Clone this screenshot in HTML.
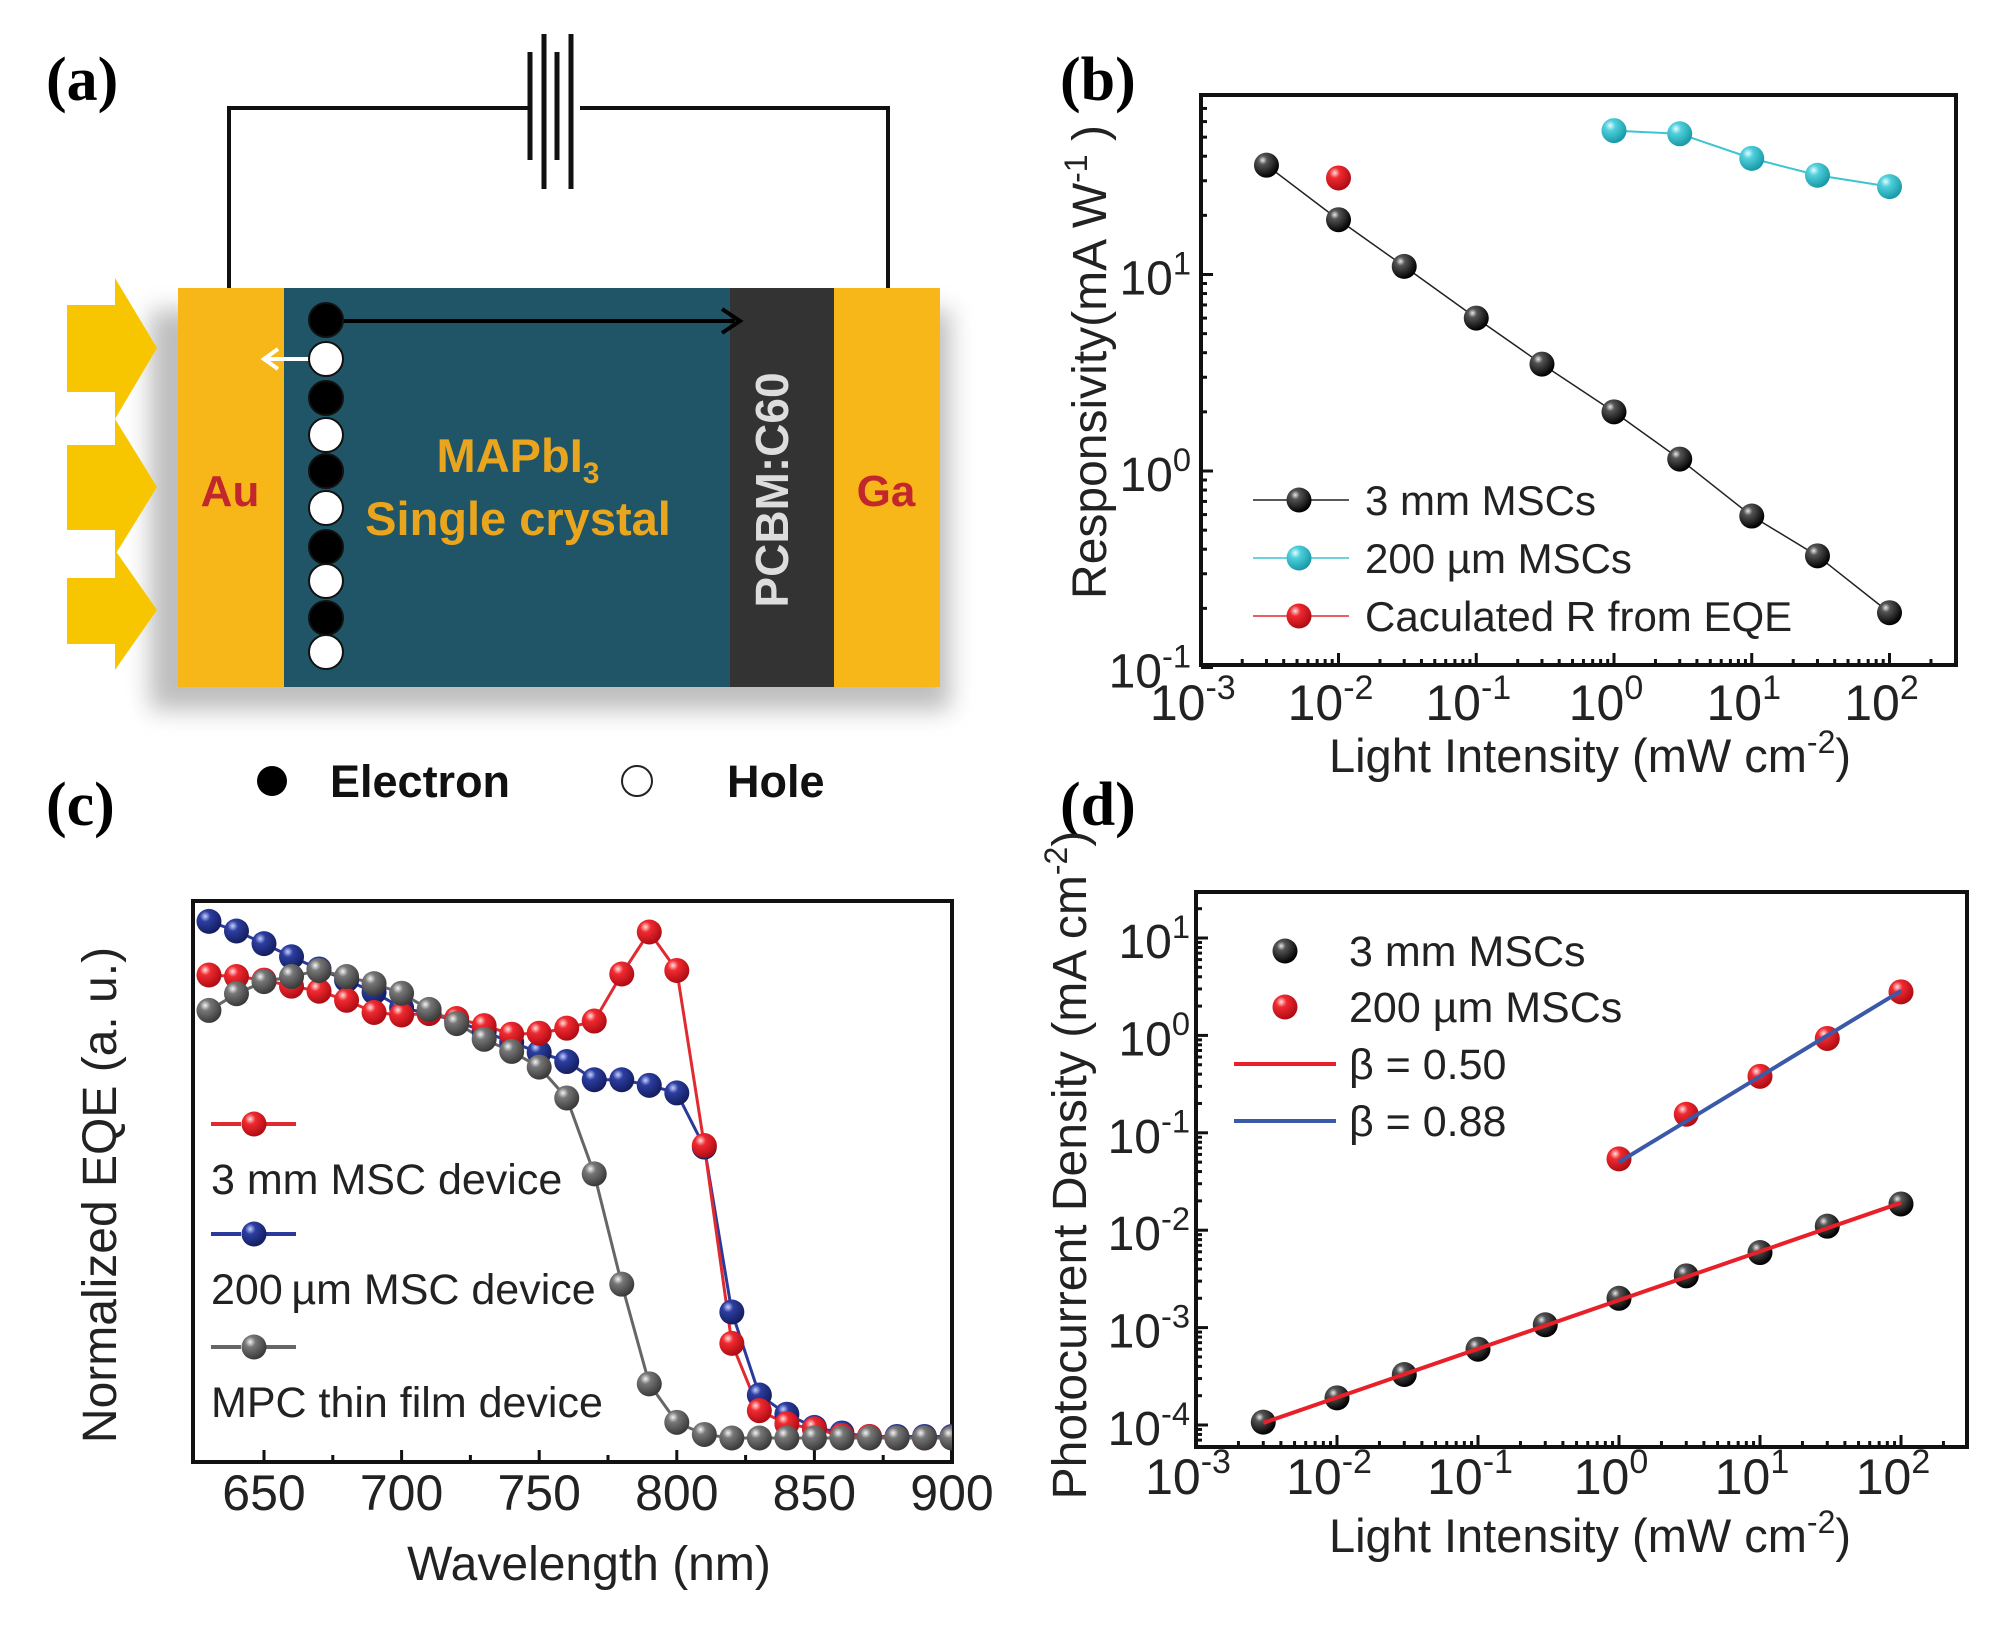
<!DOCTYPE html>
<html><head><meta charset="utf-8"><style>
html,body{margin:0;padding:0;background:#fff;}
svg{display:block;font-family:"Liberation Sans",sans-serif;}
</style></head><body>
<svg id="fig" width="2000" height="1625" viewBox="0 0 2000 1625" xmlns="http://www.w3.org/2000/svg">
<defs>
<radialGradient id="gBlack" cx="0.35" cy="0.3" r="0.7"><stop offset="0" stop-color="#e8e8e8"/><stop offset="0.25" stop-color="#555"/><stop offset="1" stop-color="#000"/></radialGradient>
<radialGradient id="gCyan" cx="0.35" cy="0.3" r="0.7"><stop offset="0" stop-color="#e6fbfd"/><stop offset="0.3" stop-color="#4fd0dc"/><stop offset="1" stop-color="#1a9aa8"/></radialGradient>
<radialGradient id="gRed" cx="0.35" cy="0.3" r="0.7"><stop offset="0" stop-color="#ffe0e0"/><stop offset="0.3" stop-color="#f02a30"/><stop offset="1" stop-color="#b00c14"/></radialGradient>
<radialGradient id="gBlue" cx="0.35" cy="0.3" r="0.7"><stop offset="0" stop-color="#c8d0ff"/><stop offset="0.3" stop-color="#2c3ea0"/><stop offset="1" stop-color="#141e60"/></radialGradient>
<radialGradient id="gGray" cx="0.35" cy="0.3" r="0.7"><stop offset="0" stop-color="#f4f4f4"/><stop offset="0.3" stop-color="#777"/><stop offset="1" stop-color="#3a3a3a"/></radialGradient>
<filter id="blur" x="-20%" y="-20%" width="140%" height="140%"><feGaussianBlur stdDeviation="12"/></filter>
</defs>

<g>
<text x="46" y="100" font-family="Liberation Serif,serif" font-weight="bold" font-size="62">(a)</text>
<rect x="150" y="310" width="800" height="400" fill="#888" opacity="0.55" filter="url(#blur)"/>
<polyline points="229,288 229,108 528,108" fill="none" stroke="#111" stroke-width="4"/>
<polyline points="580,108 888,108 888,288" fill="none" stroke="#111" stroke-width="4"/>
<g stroke="#111" stroke-width="5">
<line x1="530" y1="52" x2="530" y2="160"/><line x1="544" y1="34" x2="544" y2="189"/>
<line x1="557" y1="52" x2="557" y2="160"/><line x1="571" y1="34" x2="571" y2="189"/>
</g>
<g fill="#f7c600">
<polygon points="67,305 115,305 115,278 157,348 115,419 115,392 67,392"/>
<polygon points="67,445 115,445 115,419 157,487 115,555 115,530 67,530"/>
<polygon points="67,578 115,578 115,550 157,610 115,670 115,644 67,644"/>
</g>
<rect x="178" y="288" width="106" height="399" fill="#f7b718"/>
<rect x="284" y="288" width="446" height="399" fill="#1f5566"/>
<rect x="730" y="288" width="104" height="399" fill="#333"/>
<rect x="834" y="288" width="106" height="399" fill="#f7b718"/>
<text x="230" y="506" text-anchor="middle" font-weight="bold" font-size="44" fill="#c1272d">Au</text>
<text x="886" y="506" text-anchor="middle" font-weight="bold" font-size="44" fill="#c1272d">Ga</text>
<text x="518" y="472" text-anchor="middle" font-weight="bold" font-size="47" fill="#eaa51e">MAPbI<tspan font-size="30" dy="11">3</tspan></text>
<text x="518" y="535" text-anchor="middle" font-weight="bold" font-size="47" fill="#eaa51e">Single crystal</text>
<text transform="translate(788,490) rotate(-90)" text-anchor="middle" font-weight="bold" font-size="46" fill="#ddd">PCBM:C60</text>
<line x1="326" y1="321" x2="735" y2="321" stroke="#000" stroke-width="4"/>
<polyline points="722,309 740,321 722,333" fill="none" stroke="#000" stroke-width="4"/>
<line x1="326" y1="359" x2="266" y2="359" stroke="#fff" stroke-width="4"/>
<polyline points="278,349 264,359 278,369" fill="none" stroke="#fff" stroke-width="4"/>
<g id="carriers"></g>
<circle cx="272" cy="781" r="15" fill="#000"/>
<text x="330" y="797" font-weight="bold" font-size="45" fill="#111">Electron</text>
<circle cx="637" cy="781" r="15" fill="#fff" stroke="#222" stroke-width="2"/>
<text x="727" y="797" font-weight="bold" font-size="45" fill="#111">Hole</text>
</g>

<text x="1060" y="100" font-family="Liberation Serif,serif" font-weight="bold" font-size="62">(b)</text>
<text x="46" y="825" font-family="Liberation Serif,serif" font-weight="bold" font-size="62">(c)</text>
<text x="1060" y="825" font-family="Liberation Serif,serif" font-weight="bold" font-size="62">(d)</text>

<g id="pb"></g>
<g id="pc"></g>
<g id="pd"></g>
</svg>
<script>
// ---- Panel (b) data ----
const bX = [0.003,0.01,0.03,0.1,0.3,1,3,10,30,100];
const b3mm = [36,19,11,6,3.5,2.0,1.15,0.59,0.37,0.19];
const bCyanX = [1,3,10,30,100];
const b200 = [54,52,39,32,28];
const bRedX = [0.01];
const bRed = [31];
const bXTickExp = [-3,-2,-1,0,1,2];
const bYTickExp = [-1,0,1];
// ---- Panel (c) data ----
const cWl = [630,640,650,660,670,680,690,700,710,720,730,740,750,760,770,780,790,800,810,820,830,840,850,860,870,880,890,900];
const cRed = [0.915,0.912,0.905,0.893,0.883,0.865,0.841,0.836,0.839,0.829,0.815,0.798,0.800,0.810,0.824,0.917,1.0,0.924,0.578,0.187,0.054,0.028,0.018,0.005,0.003,0,0,0];
const cBlue = [1.021,1.002,0.977,0.951,0.927,0.905,0.881,0.850,0.839,0.824,0.803,0.782,0.762,0.744,0.708,0.708,0.697,0.682,0.575,0.249,0.085,0.047,0.021,0.010,0.003,0.003,0.003,0.003];
const cGray = [0.845,0.878,0.902,0.912,0.924,0.912,0.898,0.879,0.847,0.819,0.788,0.764,0.733,0.672,0.522,0.304,0.107,0.031,0.007,0,0,0,0,0,0,0,0,0];
const cXTicks = [650,700,750,800,850,900];
// ---- Panel (d) data ----
const dX = [0.003,0.01,0.03,0.1,0.3,1,3,10,30,100];
const d3mm = [1.07e-4,1.9e-4,3.3e-4,6e-4,1.07e-3,2.0e-3,3.4e-3,5.9e-3,0.011,0.0186];
const dRedX = [1,3,10,30,100];
const d200 = [0.054,0.155,0.38,0.93,2.8];
const dFitRedX = [0.003,100]; const dFitRed = [1.05e-4,0.0191];
const dFitBlueX = [1,100]; const dFitBlue = [0.05,2.87];
const dXTickExp = [-3,-2,-1,0,1,2];
const dYTickExp = [-4,-3,-2,-1,0,1];

const NS='http://www.w3.org/2000/svg';
function mk(parent,tag,attrs){const e=document.createElementNS(NS,tag);for(const k in attrs)e.setAttribute(k,attrs[k]);parent.appendChild(e);return e;}
const L=Math.log10;

(function(){const g=document.getElementById('carriers');
const ys=[320,359,398,435,471,508,547,581,618,652];
ys.forEach((y,i)=>{const c=mk(g,'circle',{cx:326,cy:y,r:17,fill:i%2?'#fff':'#000',stroke:'#111','stroke-width':2});

});})();

function powLabel(g,x,y,exp,fs,anchor){
  const t=mk(g,'text',{x:x,y:y,'font-size':fs,fill:'#222','text-anchor':anchor});
  t.textContent='10';
  const s=mk(t,'tspan',{dy:-fs*0.42,'font-size':fs*0.68});s.textContent=String(exp);
  
  
  return t;
}
function box(g,x0,y0,x1,y1){const r=mk(g,'rect',{x:x0,y:y0,width:x1-x0,height:y1-y0,fill:'none',stroke:'#111','stroke-width':4});

}
function sphere(g,x,y,grad,name,r){const c=mk(g,'circle',{cx:x,cy:y,r:r||12.5,fill:'url(#'+grad+')'});

return c;}
function polyl(g,pts,color,w,name,dash){const p=mk(g,'polyline',{points:pts.map(p=>p.join(',')).join(' '),fill:'none',stroke:color,'stroke-width':w});
if(dash)p.setAttribute('stroke-dasharray',dash);

return p;}
function logTicks(g,horiz,pos,expMin,expMax,lo,hi,axisPos){
  for(let e=expMin;e<=expMax;e++){for(let m=1;m<10;m++){const v=m*Math.pow(10,e);if(L(v)<lo-1e-9||L(v)>hi+1e-9)continue;
   const p=pos(v);const len=m===1?12:6;
   const t=horiz?mk(g,'line',{x1:p,x2:p,y1:axisPos,y2:axisPos-len,stroke:'#111','stroke-width':3}):mk(g,'line',{x1:axisPos,x2:axisPos+len,y1:p,y2:p,stroke:'#111','stroke-width':3});
   
   }}
}
function text(g,x,y,s,fs,name,extra){const t=mk(g,'text',Object.assign({x:x,y:y,'font-size':fs,fill:'#222'},extra||{}));t.textContent=s;

return t;}

// ---------- Panel (b) ----------
(function(){const g=document.getElementById('pb');
const X0=1201,X1=1956,Y0=95,Y1=665;
const xs=v=>1614+137.75*L(v); const ys=v=>471-196.5*L(v);
box(g,X0,Y0,X1,Y1);
logTicks(g,true,xs,-3,2,-3,2.45,Y1);
logTicks(g,false,ys,-1,1,-1,1.9,X0);
bXTickExp.forEach(e=>powLabel(g,xs(Math.pow(10,e))-8,720,e,50,'middle'));
bYTickExp.forEach(e=>powLabel(g,X0-10,ys(Math.pow(10,e))+20,e,48,'end'));
const xt=text(g,1590,772,'Light Intensity (mW cm',47,'x-axis-title',{'text-anchor':'middle'});
const s=mk(xt,'tspan',{dy:-19,'font-size':32});s.textContent='-2';const s2=mk(xt,'tspan',{dy:19});s2.textContent=')';
const yt=text(g,0,0,'Responsivity(mA W',48,'y-axis-title',{transform:'translate(1106,362) rotate(-90)','text-anchor':'middle'});
const s3=mk(yt,'tspan',{dy:-19,'font-size':32});s3.textContent='-1';const s4=mk(yt,'tspan',{dy:19});s4.textContent=' )';
polyl(g,bX.map((x,i)=>[xs(x),ys(b3mm[i])]),'#222',1.5,'series-3mm-line');
polyl(g,bCyanX.map((x,i)=>[xs(x),ys(b200[i])]),'#3cc4d0',2,'series-200um-line');
bX.forEach((x,i)=>sphere(g,xs(x),ys(b3mm[i]),'gBlack','point-3mm'));
bCyanX.forEach((x,i)=>sphere(g,xs(x),ys(b200[i]),'gCyan','point-200um'));
bRedX.forEach((x,i)=>sphere(g,xs(x),ys(bRed[i]),'gRed','point-eqe-calc'));
const leg=[['3 mm MSCs','#222','gBlack',500],['200  µm MSCs','#3cc4d0','gCyan',558],['Caculated R from EQE','#e02a30','gRed',616]];
leg.forEach(l=>{polyl(g,[[1253,l[3]],[1349,l[3]]],l[1],1.5,'legend-line');sphere(g,1299,l[3],l[2],'legend-marker');text(g,1365,l[3]+15,l[0],42,'legend-entry');});
})();

// ---------- Panel (c) ----------
(function(){const g=document.getElementById('pc');
const X0=193,X1=952,Y0=901,Y1=1462;
const xs=w=>264+(w-650)*137.6/50; const ys=v=>1438-506*v;
box(g,X0,Y0,X1,Y1);
for(let w=650;w<=900;w+=25){const t=mk(g,'line',{x1:xs(w),x2:xs(w),y1:Y1,y2:Y1-(w%50===0?12:7),stroke:'#111','stroke-width':3});

}
cXTicks.forEach(w=>text(g,xs(w),1510,String(w),50,'tick-label',{'text-anchor':'middle'}));
text(g,589,1580,'Wavelength (nm)',48,'x-axis-title',{'text-anchor':'middle'});
text(g,0,0,'Normalized EQE (a. u.)',48,'y-axis-title',{transform:'translate(116,1195) rotate(-90)','text-anchor':'middle'});
const cp=mk(g,'clipPath',{id:'clipc'});mk(cp,'rect',{x:X0,y:Y0,width:X1-X0,height:Y1-Y0});
const inner=mk(g,'g',{'clip-path':'url(#clipc)'});


polyl(inner,cWl.map((w,i)=>[xs(w),ys(cBlue[i])]),'#2b3a9a',3,'series-200um-line');
polyl(inner,cWl.map((w,i)=>[xs(w),ys(cRed[i])]),'#e02a30',3,'series-3mm-line');
polyl(inner,cWl.map((w,i)=>[xs(w),ys(cGray[i])]),'#666',3,'series-film-line');
cWl.forEach((w,i)=>sphere(inner,xs(w),ys(cBlue[i]),'gBlue','point-200um'));
cWl.forEach((w,i)=>sphere(inner,xs(w),ys(cRed[i]),'gRed','point-3mm'));
cWl.forEach((w,i)=>sphere(inner,xs(w),ys(cGray[i]),'gGray','point-film'));
const leg=[['3 mm MSC device','#e02a30','gRed',1124],['200\u2009µm MSC device','#2b3a9a','gBlue',1234],['MPC thin film device','#666','gGray',1347]];
leg.forEach(l=>{polyl(g,[[211,l[3]],[296,l[3]]],l[1],4,'legend-line','30,25');sphere(g,254,l[3],l[2],'legend-marker');text(g,211,l[3]+70,l[0],43,'legend-entry');});
})();

// ---------- Panel (d) ----------
(function(){const g=document.getElementById('pd');
const X0=1196,X1=1967,Y0=892,Y1=1447;
const xs=v=>1619+141*L(v); const ys=v=>1425-97.4*(L(v)+4);
box(g,X0,Y0,X1,Y1);
logTicks(g,true,xs,-3,2,-3,2.45,Y1);
logTicks(g,false,ys,-5,1,-4.2,1.45,X0);
dXTickExp.forEach(e=>powLabel(g,xs(Math.pow(10,e))-8,1494,e,50,'middle'));
dYTickExp.forEach(e=>powLabel(g,X0-6,ys(Math.pow(10,e))+20,e,48,'end'));
const xt=text(g,1590,1552,'Light Intensity (mW cm',47,'x-axis-title',{'text-anchor':'middle'});
const s=mk(xt,'tspan',{dy:-19,'font-size':32});s.textContent='-2';const s2=mk(xt,'tspan',{dy:19});s2.textContent=')';
const yt=text(g,0,0,'Photocurrent Density (mA cm',48,'y-axis-title',{transform:'translate(1086,1165) rotate(-90)','text-anchor':'middle'});
const s3=mk(yt,'tspan',{dy:-19,'font-size':32});s3.textContent='-2';const s4=mk(yt,'tspan',{dy:19});s4.textContent=')';
dX.forEach((x,i)=>sphere(g,xs(x),ys(d3mm[i]),'gBlack','point-3mm'));
dRedX.forEach((x,i)=>sphere(g,xs(x),ys(d200[i]),'gRed','point-200um'));
polyl(g,dFitRedX.map((x,i)=>[xs(x),ys(dFitRed[i])]),'#e8202a',4,'fit-beta-050');
polyl(g,dFitBlueX.map((x,i)=>[xs(x),ys(dFitBlue[i])]),'#3a5aa8',4,'fit-beta-088');
sphere(g,1285,951,'gBlack','legend-marker');text(g,1349,966,'3 mm MSCs',43,'legend-entry');
sphere(g,1285,1007,'gRed','legend-marker');text(g,1349,1022,'200  µm MSCs',43,'legend-entry');
polyl(g,[[1234,1064],[1336,1064]],'#e8202a',4,'legend-line');text(g,1349,1079,'β = 0.50',43,'legend-entry');
polyl(g,[[1234,1121],[1336,1121]],'#3a5aa8',4,'legend-line');text(g,1349,1136,'β = 0.88',43,'legend-entry');
})();
</script>
</body></html>
